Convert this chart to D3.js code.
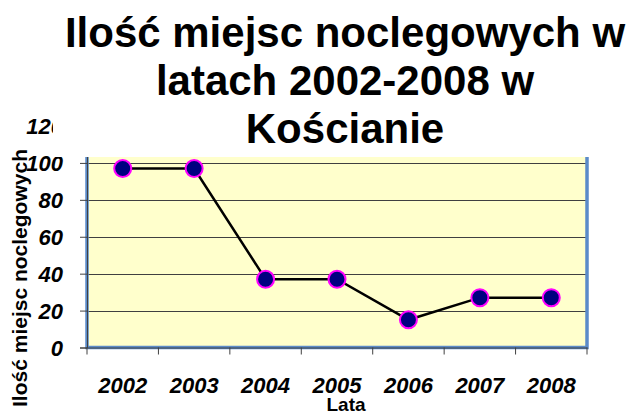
<!DOCTYPE html>
<html><head><meta charset="utf-8">
<script src="https://cdn.jsdelivr.net/npm/d3@7/dist/d3.min.js"></script>
<style>body{margin:0;background:#fff}svg{display:block}text{font-family:"Liberation Sans",Arial,sans-serif}</style>
</head><body>
<svg id="c" width="634" height="412"></svg>
<script>
const years = ["2002","2003","2004","2005","2006","2007","2008"];
const values = [97,97,37,37,15,27,27];
const yTicks = [0,20,40,60,80,100,120];
const titleLines = ["Ilość miejsc noclegowych w","latach 2002-2008 w","Kościanie"];
const yTitle = "Ilość miejsc noclegowych";
const xTitle = "Lata";

const svg = d3.select("#c");
const L = 87, R = 587, T = 126, B = 347.5;
const x = d3.scaleBand().domain(years).range([L, R]).padding(0);
const y = d3.scaleLinear().domain([0,120]).range([B, T]);

// plot area
svg.append("rect").attr("x",L).attr("y",T).attr("width",R-L).attr("height",B-T)
  .attr("fill","#FFFFCC");
// gridlines
svg.append("g").selectAll("line").data(yTicks.filter(d=>d>0)).join("line")
  .attr("x1",L).attr("x2",R).attr("y1",d=>Math.round(y(d))+0.5).attr("y2",d=>Math.round(y(d))+0.5)
  .attr("stroke","#404040").attr("stroke-width",1);
// frame
svg.append("rect").attr("x",L).attr("y",T).attr("width",R-L).attr("height",B-T)
  .attr("fill","none").attr("stroke","#5B8BC9").attr("stroke-width",3.5);

// y axis
const yAxis = d3.axisLeft(y).tickValues(yTicks).tickSize(7).tickPadding(17);
const gy = svg.append("g").attr("transform",`translate(${L},0)`).call(yAxis);
gy.select(".domain").attr("stroke","#404040");
gy.selectAll(".tick line").attr("stroke","#404040");
gy.selectAll(".tick text").attr("font-size",22).attr("font-weight","bold").attr("font-style","italic")
  .attr("fill","#000").attr("dy","0.36em").style("font-family","'Liberation Sans',Arial,sans-serif");

// x axis
const xAxis = d3.axisBottom(x).tickSize(0).tickPadding(0);
const gx = svg.append("g").attr("transform",`translate(0,${B})`).call(xAxis);
gx.select(".domain").attr("stroke","#404040");
gx.selectAll(".tick text").attr("y",45.5).attr("dy",0).attr("font-size",22).attr("font-weight","bold")
  .attr("font-style","italic").attr("fill","#000").style("font-family","'Liberation Sans',Arial,sans-serif");
// boundary ticks
svg.append("g").selectAll("line").data(d3.range(years.length+1)).join("line")
  .attr("x1",i=>L+i*x.bandwidth()).attr("x2",i=>L+i*x.bandwidth())
  .attr("y1",B).attr("y2",B+7).attr("stroke","#404040");

// line
const line = d3.line().x((d,i)=>x(years[i])+x.bandwidth()/2).y(d=>y(d));
svg.append("path").datum(values).attr("d",line).attr("fill","none")
  .attr("stroke","#000").attr("stroke-width",2.5);
svg.append("g").selectAll("circle").data(values).join("circle")
  .attr("cx",(d,i)=>x(years[i])+x.bandwidth()/2).attr("cy",d=>y(d)).attr("r",8.5)
  .attr("fill","#000080").attr("stroke","#FF00FF").attr("stroke-width",2);

// axis titles
svg.append("text").attr("transform","translate(27,278) rotate(-90)").attr("text-anchor","middle")
  .attr("font-size",21).attr("font-weight","bold").text(yTitle);
svg.append("text").attr("x",346).attr("y",411).attr("text-anchor","middle")
  .attr("font-size",19).attr("font-weight","bold").text(xTitle);

// title box (covers top of plot)
svg.append("rect").attr("x",53).attr("y",0).attr("width",634-53).attr("height",157).attr("fill","#fff");
svg.append("g").selectAll("text").data(titleLines).join("text")
  .attr("x",345).attr("y",(d,i)=>47+i*48).attr("text-anchor","middle")
  .attr("font-size",42).attr("font-weight","bold").attr("fill","#000").text(d=>d);
</script>
</body></html>
